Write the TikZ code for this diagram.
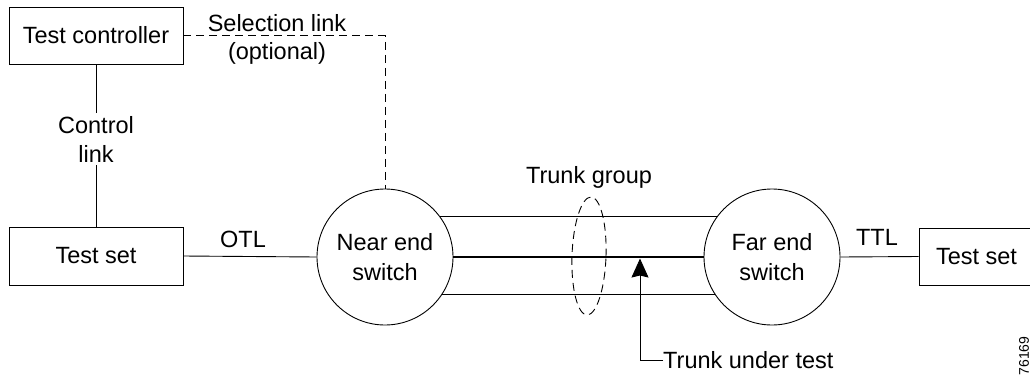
\documentclass[tikz,border=0pt]{standalone}
\usepackage{fontspec}
\setmainfont{Liberation Sans}
\usetikzlibrary{shapes.geometric,arrows.meta}
\begin{document}
\begin{tikzpicture}[x=1pt,y=-1pt,
  every node/.style={font=\fontsize{23.5}{29}\selectfont, inner sep=0pt, align=center},
  boxnode/.style={draw, line width=0.9pt, rectangle},
  switchnode/.style={draw, line width=0.9pt, circle, minimum size=136pt, font=\fontsize{23.5}{30}\selectfont},
  conn/.style={line width=0.9pt},
  dashconn/.style={line width=0.9pt, dash pattern=on 8pt off 5pt},
  bigtip/.tip={Stealth[length=19pt,width=17pt,inset=2pt]}]
\useasboundingbox (0,0) rectangle (1030,375);
\begin{scope}
\clip (0,0) rectangle (1030,375);
\node[boxnode, minimum width=174pt, minimum height=57pt] (tc) at (96,35.5) {Test controller};
\node[boxnode, minimum width=174pt, minimum height=58pt] (ts1) at (96,256) {Test set};
\node[switchnode] (near) at (385,257) {Near end\\switch};
\node[switchnode] (far) at (772,257) {Far end\\switch};
\node[boxnode, minimum width=115pt, minimum height=57pt] (ts2) at (976.5,256.5) {Test set};
\node[draw, ellipse, line width=0.9pt, dash pattern=on 8pt off 5pt, minimum width=34pt, minimum height=118pt, rotate=-2] (tg) at (589,256) {};

% connectors
\draw[conn] (tc.south) -- (ts1.north);
\node[fill=white, inner ysep=3pt] (cl) at (96,139) {Control\\link};
\coordinate (sel) at (near.north |- tc.east);
\draw[dashconn] (tc.east) -- (sel) -- (near.north);
\draw[conn] (ts1.east) -- (near.west);
\draw[conn] (near.36) -- (far.144);
\draw[line width=2.2pt] (near.east) -- (far.west);
\draw[conn] (near.-33) -- (far.-147);
\draw[conn] (far.east) -- (ts2.west);

% labels
\node (sl) at (277,23) {Selection link};
\node (opt) at (277,53) {(optional)};
\node (otl) at (243,239) {OTL};
\node (ttl) at (877,237) {TTL};
\node (tgl) at (589,177) {Trunk group};
\node[anchor=west] (tut) at (663,360) {Trunk under test};
\coordinate (tip) at (640,258.5);
\coordinate (bend) at (tip |- tut.west);
\draw[conn] (tut.west) -- (bend);
\draw[conn, -{bigtip}] (bend) -- (tip);
\node[font=\fontsize{14}{14}\selectfont, rotate=90] (id) at (1024,356) {76169};
\end{scope}
\end{tikzpicture}
\end{document}
